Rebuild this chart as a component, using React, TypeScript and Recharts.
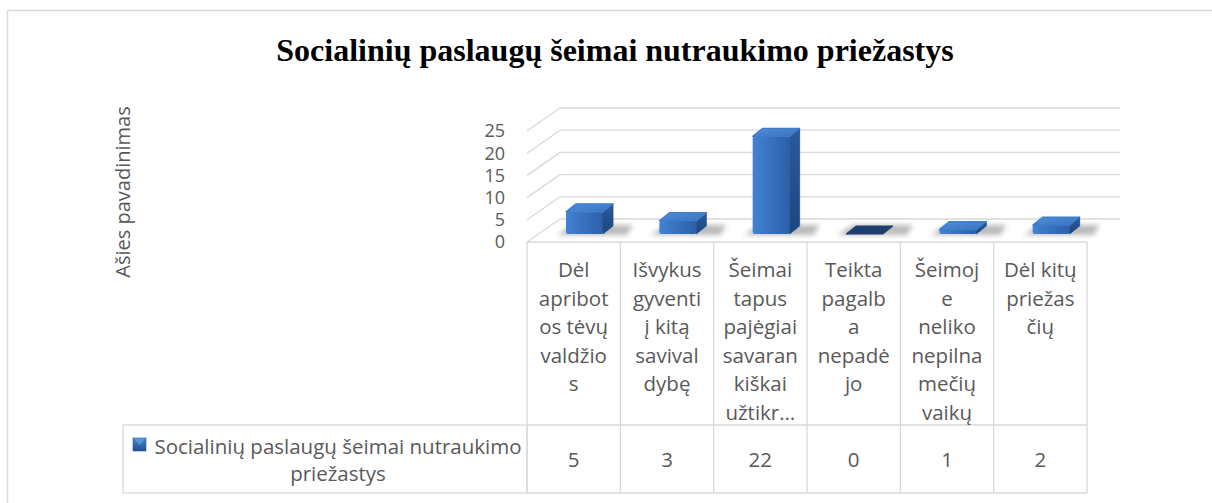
import React from "react";
import { BarChart, Bar, XAxis, YAxis, CartesianGrid } from "recharts";

const chartTitle = "Socialinių paslaugų šeimai nutraukimo priežastys";
const axisTitle = "Ašies pavadinimas";
const seriesName = "Socialinių paslaugų šeimai nutraukimo priežastys";
const legendLines = ["Socialinių paslaugų šeimai nutraukimo", "priežastys"];

// category labels as they wrap in the data table
const categoryLines = [
  ["Dėl", "apribot", "os tėvų", "valdžio", "s"],
  ["Išvykus", "gyventi", "į kitą", "savival", "dybę"],
  ["Šeimai", "tapus", "pajėgiai", "savaran", "kiškai", "užtikr…"],
  ["Teikta", "pagalb", "a", "nepadė", "jo"],
  ["Šeimoj", "e", "neliko", "nepilna", "mečių", "vaikų"],
  ["Dėl kitų", "priežas", "čių"],
];
const values = [5, 3, 22, 0, 1, 2];
const yTicks = [0, 5, 10, 15, 20, 25];

const data = categoryLines.map((lines, i) => ({
  name: lines.join(" "),
  value: values[i],
}));

const W = 1212;
const H = 503;
const PLOT_LEFT = 527;
const PLOT_RIGHT = 1087;
const PLOT_TOP = 131;
const Y_AXIS_W = 60;
const X_AXIS_H = 250;
const DEPTH_X = 33;
const DEPTH_Y = 23;
const BAR_SHIFT_X = 11;
const BAR_SHIFT_Y = 8;
const BAR_DX = 10;
const BAR_DY = 8;
const ROW_SPLIT = 425;
const TABLE_BOTTOM = 493;
const LEGEND_LEFT = 123;
const LINE_H = 28.6;

const FONT = "'Open Sans', sans-serif";
const TEXT = "#595959";
const RULE = "#d9d9d9";

function WallLine(props: any) {
  const { x1, y1, x2 } = props;
  return (
    <g key={props.key}>
      <line x1={x1} y1={y1} x2={x1 + DEPTH_X} y2={y1 - DEPTH_Y} stroke={RULE} strokeWidth={1.3} />
      <line x1={x1 + DEPTH_X} y1={y1 - DEPTH_Y} x2={x2 + DEPTH_X} y2={y1 - DEPTH_Y} stroke={RULE} strokeWidth={1.3} />
    </g>
  );
}

function Column3D(props: any) {
  const { x, y, width, height } = props;
  const fx = x + BAR_SHIFT_X;
  const bottom = y + height - BAR_SHIFT_Y;
  const top = Math.min(y, y + height) - BAR_SHIFT_Y;
  const w = width;
  const flat = Math.abs(height) < 0.5;
  const shadow = `${fx - 9},${bottom + 1} ${fx + w + BAR_DX + 14},${bottom + 1} ${fx + w + BAR_DX + 20},${bottom - BAR_DY - 1} ${fx + BAR_DX - 3},${bottom - BAR_DY - 1}`;
  const topFace = `${fx},${top} ${fx + w},${top} ${fx + w + BAR_DX},${top - BAR_DY} ${fx + BAR_DX},${top - BAR_DY}`;
  const side = `${fx + w},${top} ${fx + w + BAR_DX},${top - BAR_DY} ${fx + w + BAR_DX},${bottom - BAR_DY} ${fx + w},${bottom}`;
  return (
    <g>
      <polygon points={shadow} fill="#8c8c8c" opacity={0.6} filter="url(#shadowBlur)" />
      {flat ? (
        <polygon points={topFace} fill="#1f3e6e" stroke="#1f3e6e" strokeWidth={1} strokeLinejoin="round" />
      ) : (
        <g strokeLinejoin="round">
          <rect x={fx} y={top} width={w} height={bottom - top} fill="url(#frontFace)" rx={2} />
          <polygon points={side} fill="url(#sideFace)" stroke="#234f8c" strokeWidth={0.8} />
          <polygon points={topFace} fill="url(#topFace)" stroke="#3f7cca" strokeWidth={1.2} />
        </g>
      )}
    </g>
  );
}

function TableTick(props: any) {
  const { x, y, index } = props;
  const bw = (PLOT_RIGHT - PLOT_LEFT) / categoryLines.length;
  const left = x - bw / 2;
  const right = x + bw / 2;
  const lines = categoryLines[index] || [];
  return (
    <g>
      <line x1={left} y1={y} x2={right} y2={y} stroke={RULE} strokeWidth={1.3} />
      <line x1={left} y1={ROW_SPLIT} x2={right} y2={ROW_SPLIT} stroke={RULE} strokeWidth={1.3} />
      <line x1={left} y1={TABLE_BOTTOM} x2={right} y2={TABLE_BOTTOM} stroke={RULE} strokeWidth={1.3} />
      <line x1={left} y1={y} x2={left} y2={TABLE_BOTTOM} stroke={RULE} strokeWidth={1.3} />
      {index === categoryLines.length - 1 && (
        <line x1={right} y1={y} x2={right} y2={TABLE_BOTTOM} stroke={RULE} strokeWidth={1.3} />
      )}
      {lines.map((t, i) => (
        <text
          key={i}
          x={x}
          y={y + 27 + i * LINE_H}
          textAnchor="middle"
          dominantBaseline="central"
          fontFamily={FONT}
          fontSize={20.5}
          fill={TEXT}
        >
          {t}
        </text>
      ))}
      <text
        x={x}
        y={(ROW_SPLIT + TABLE_BOTTOM) / 2}
        textAnchor="middle"
        dominantBaseline="central"
        fontFamily={FONT}
        fontSize={20.5}
        fill={TEXT}
      >
        {values[index]}
      </text>
      {index === 0 && (
        <g>
          <rect
            x={LEGEND_LEFT}
            y={ROW_SPLIT}
            width={left - LEGEND_LEFT}
            height={TABLE_BOTTOM - ROW_SPLIT}
            fill="none"
            stroke={RULE}
            strokeWidth={1.3}
          />
          <rect x={133} y={438} width={13} height={13} fill="url(#legendIcon)" stroke="#2a5a9e" strokeWidth={0.6} />
          <polygon points="133.5,438.5 145.5,438.5 139.5,445" fill="#5b9be0" opacity={0.8} />
          {legendLines.map((t, i) => (
            <text
              key={i}
              x={338}
              y={446 + i * 27}
              textAnchor="middle"
              dominantBaseline="central"
              fontFamily={FONT}
              fontSize={20.5}
              fill={TEXT}
            >
              {t}
            </text>
          ))}
        </g>
      )}
    </g>
  );
}

export default function App() {
  return (
    <div style={{ position: "absolute", left: 0, top: 0, width: W, height: H, background: "#fff" }}>
      <svg width={W} height={H} style={{ position: "absolute", left: 0, top: 0 }}>
        <line x1={7.5} y1={10.5} x2={W} y2={10.5} stroke={RULE} strokeWidth={1.5} />
        <line x1={7.5} y1={10.5} x2={7.5} y2={H} stroke={RULE} strokeWidth={1.5} />
        <text
          x={615}
          y={61}
          textAnchor="middle"
          fontFamily="'Liberation Serif', 'Times New Roman', serif"
          fontWeight="bold"
          fontSize={32}
          fill="#000"
        >
          {chartTitle}
        </text>
        <text
          transform="translate(130,192) rotate(-90)"
          textAnchor="middle"
          fontFamily={FONT}
          fontSize={20}
          fill={TEXT}
        >
          {axisTitle}
        </text>
      </svg>
      <div style={{ position: "absolute", left: 0, top: 0 }}>
        <BarChart
          width={W}
          height={H}
          data={data}
          margin={{ top: PLOT_TOP, left: PLOT_LEFT - Y_AXIS_W, right: W - PLOT_RIGHT, bottom: 11 }}
        >
          <defs>
            <linearGradient id="frontFace" x1="0" y1="0" x2="1" y2="0">
              <stop offset="0%" stopColor="#4382d3" />
              <stop offset="100%" stopColor="#2c5fa8" />
            </linearGradient>
            <linearGradient id="sideFace" x1="0" y1="0" x2="0" y2="1">
              <stop offset="0%" stopColor="#2a5a9c" />
              <stop offset="100%" stopColor="#1d4680" />
            </linearGradient>
            <linearGradient id="topFace" x1="0" y1="0" x2="1" y2="1">
              <stop offset="0%" stopColor="#4f8cd8" />
              <stop offset="100%" stopColor="#3a74c0" />
            </linearGradient>
            <linearGradient id="legendIcon" x1="0" y1="0" x2="0" y2="1">
              <stop offset="0%" stopColor="#4a86d2" />
              <stop offset="100%" stopColor="#1f4e8c" />
            </linearGradient>
            <filter id="shadowBlur" x="-30%" y="-100%" width="160%" height="300%">
              <feGaussianBlur stdDeviation="2.5" />
            </filter>
          </defs>
          <CartesianGrid horizontal={WallLine} vertical={false} stroke={RULE} />
          <YAxis
            domain={[0, 25]}
            ticks={yTicks}
            width={Y_AXIS_W}
            axisLine={false}
            tickLine={false}
            tickMargin={16}
            interval={0}
            tick={{ fontSize: 18, fill: TEXT, fontFamily: FONT }}
          />
          <XAxis
            dataKey="name"
            height={X_AXIS_H}
            axisLine={false}
            tickLine={false}
            tickSize={0}
            tickMargin={0}
            interval={0}
            tick={<TableTick />}
          />
          <Bar
            dataKey="value"
            name={seriesName}
            barSize={37}
            shape={<Column3D />}
            isAnimationActive={false}
          />
        </BarChart>
      </div>
    </div>
  );
}
